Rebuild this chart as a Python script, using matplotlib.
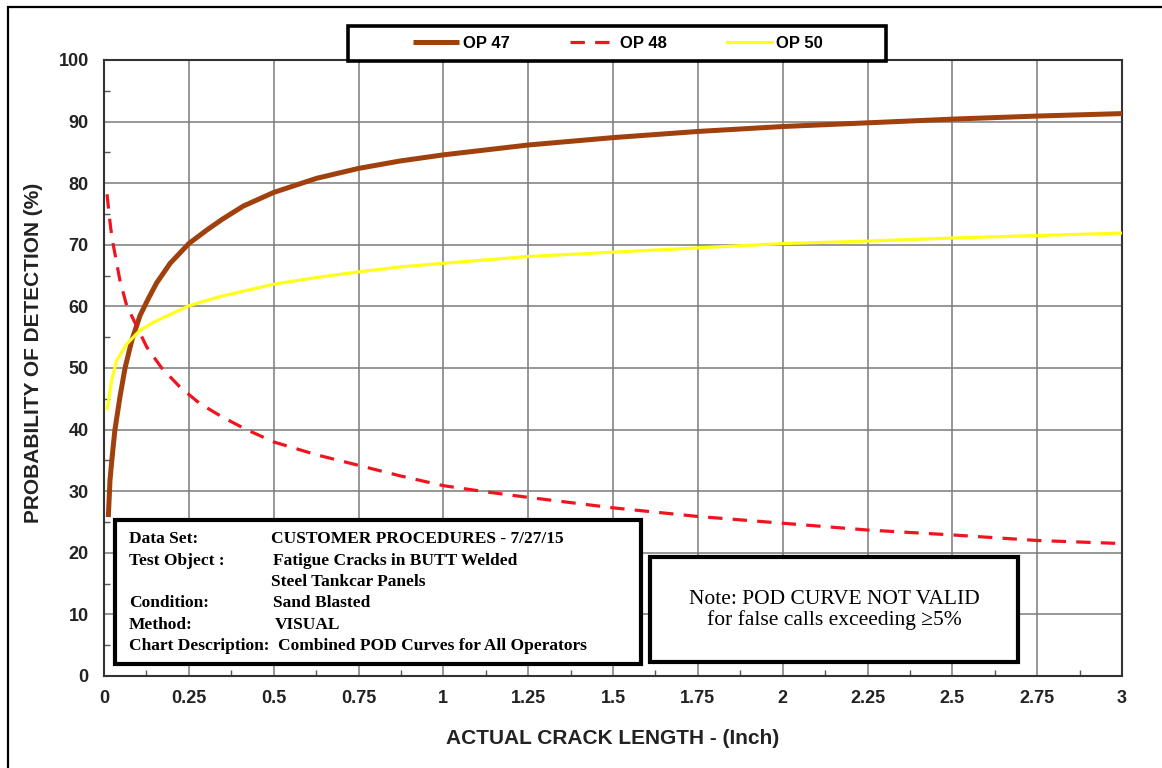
import matplotlib
matplotlib.use('Agg')
import matplotlib.pyplot as plt
from matplotlib.patches import Rectangle
from matplotlib.ticker import MultipleLocator

# values
op47_x = [0.0127, 0.0177, 0.023, 0.032, 0.047, 0.062, 0.082, 0.106, 0.131, 0.155, 0.195,
          0.25, 0.303, 0.35, 0.411, 0.5, 0.627, 0.75, 0.872, 1.0, 1.125, 1.25, 1.375, 1.5,
          1.75, 2.0, 2.25, 2.5, 2.75, 3.0]
op47_y = [25.8, 31.8, 35.0, 39.9, 45.3, 50.0, 54.5, 58.5, 61.3, 63.8, 67.0,
          70.2, 72.4, 74.2, 76.3, 78.5, 80.8, 82.4, 83.6, 84.6, 85.4, 86.2, 86.8, 87.4,
          88.4, 89.2, 89.8, 90.4, 90.9, 91.3]

op48_x = [0.009, 0.015, 0.02, 0.027, 0.047, 0.067, 0.091, 0.126, 0.17, 0.224, 0.283, 0.35,
          0.42, 0.5, 0.627, 0.75, 0.872, 1.0, 1.125, 1.25, 1.5, 1.75, 2.0, 2.25, 2.5, 2.75, 3.0]
op48_y = [78.2, 75.0, 72.6, 70.1, 64.2, 60.1, 57.4, 53.4, 50.0, 46.9, 44.2, 42.0,
          40.0, 38.0, 35.9, 34.2, 32.5, 30.9, 29.9, 29.0, 27.3, 25.9, 24.8, 23.7, 22.9, 22.0, 21.5]

op50_x = [0.0097, 0.0227, 0.037, 0.067, 0.106, 0.145, 0.25, 0.342, 0.5, 0.627, 0.75,
          0.872, 1.0, 1.25, 1.5, 1.75, 2.0, 2.25, 2.5, 2.75, 3.0]
op50_y = [43.4, 48.0, 51.2, 53.9, 56.1, 57.4, 60.1, 61.6, 63.6, 64.7, 65.6,
          66.4, 67.0, 68.1, 68.8, 69.5, 70.2, 70.6, 71.1, 71.5, 71.9]

x_ticks = [0, 0.25, 0.5, 0.75, 1, 1.25, 1.5, 1.75, 2, 2.25, 2.5, 2.75, 3]
x_tick_labels = ['0', '0.25', '0.5', '0.75', '1', '1.25', '1.5', '1.75', '2', '2.25', '2.5', '2.75', '3']
y_ticks = list(range(0, 101, 10))

info_labels = ['Data Set:', 'Test Object :', '', 'Condition:', 'Method:', 'Chart Description:']
info_values = ['CUSTOMER PROCEDURES - 7/27/15', 'Fatigue Cracks in BUTT Welded',
               'Steel Tankcar Panels', 'Sand Blasted', 'VISUAL',
               'Combined POD Curves for All Operators']
note_text = 'Note: POD CURVE NOT VALID\nfor false calls exceeding \u22655%'

W, H = 1162, 768
fig = plt.figure(figsize=(W / 100, H / 100), dpi=100)
ax = fig.add_axes([104 / W, 1 - 676 / H, 1018 / W, 616 / H])

def fx(px):
    return px / W

def fy(py):
    return 1 - py / H

sans = ['Liberation Sans', 'DejaVu Sans']
serif = ['Liberation Serif', 'DejaVu Serif']

ax.plot(op47_x, op47_y, color='#A0400C', lw=3.6, solid_capstyle='butt', solid_joinstyle='round',
        label='OP 47', zorder=3)
ax.plot(op48_x, op48_y, color='#F0141E', lw=2.3, dashes=(4.5, 3.2), label='OP 48', zorder=3)
ax.plot(op50_x, op50_y, color='#FFFF1A', lw=2.3, solid_joinstyle='round', label='OP 50', zorder=3)

ax.set_xlim(0, 3)
ax.set_ylim(0, 100)
ax.set_xticks(x_ticks)
ax.set_xticklabels(x_tick_labels)
ax.set_yticks(y_ticks)
ax.xaxis.set_minor_locator(MultipleLocator(0.125))
ax.yaxis.set_minor_locator(MultipleLocator(5))
ax.tick_params(which='major', length=0)
ax.tick_params(axis='x', which='major', pad=10)
ax.tick_params(axis='y', which='major', pad=11)
ax.tick_params(which='minor', direction='in', length=4, width=1, color='#555555')
for lab in ax.get_xticklabels() + ax.get_yticklabels():
    lab.set_fontfamily(sans)
    lab.set_fontweight('bold')
    lab.set_fontsize(13)
    lab.set_color('#222222')

ax.grid(True, which='major', color='#7a7a7a', lw=1.1)
ax.set_axisbelow(True)
for sp in ax.spines.values():
    sp.set_color('#333333')
    sp.set_linewidth(1.5)

ax.set_xlabel('ACTUAL CRACK LENGTH - (Inch)', family=sans, fontweight='bold', fontsize=15, color='#222222')
ax.set_ylabel('PROBABILITY OF DETECTION (%)', family=sans, fontweight='bold', fontsize=15, color='#222222')
ax.xaxis.set_label_coords(0.5, (676 - 729) / 616)
ax.yaxis.set_label_coords((43 - 104) / 1018, (676 - 353) / 616)

# outer frame
fig.add_artist(Rectangle((fx(8), fy(H + 20)), 2, fy(7) - fy(H + 20), transform=fig.transFigure,
                         fill=False, ec='black', lw=1.6, clip_on=False))

# legend box
fig.add_artist(Rectangle((fx(348), fy(60.7)), fx(886) - fx(348), fy(25.7) - fy(60.7),
                         transform=fig.transFigure, fc='white', ec='black', lw=2.6, zorder=4))
leg = fig.legend(loc='center', bbox_to_anchor=(fx(618), fy(43)), ncol=3, frameon=False,
                 handlelength=2.75, handletextpad=0.25, columnspacing=3.6,
                 prop={'family': sans, 'weight': 'bold', 'size': 12})
leg.set_zorder(5)

# info box
fig.add_artist(Rectangle((fx(115), fy(664)), fx(641) - fx(115), fy(520) - fy(664),
                         transform=fig.transFigure, fc='white', ec='black', lw=3, zorder=4))
rows_y = [539, 561, 582, 603, 625, 646]
val_x = [271, 273, 271, 273, 275, 278]
for lab, val, yy, vx in zip(info_labels, info_values, rows_y, val_x):
    fig.text(fx(129), fy(yy), lab, family=serif, fontweight='bold', fontsize=12.5, va='center', zorder=6)
    fig.text(fx(vx), fy(yy), val, family=serif, fontweight='bold', fontsize=12.5, va='center', zorder=6)

# note box
fig.add_artist(Rectangle((fx(650), fy(662)), fx(1017.5) - fx(650), fy(557) - fy(662),
                         transform=fig.transFigure, fc='white', ec='black', lw=3, zorder=4))
fig.text(fx(834), fy(610), note_text, family=serif, fontsize=15.5, ha='center', va='center',
         linespacing=1.1, zorder=6)

fig.savefig('out.png', dpi=100)
